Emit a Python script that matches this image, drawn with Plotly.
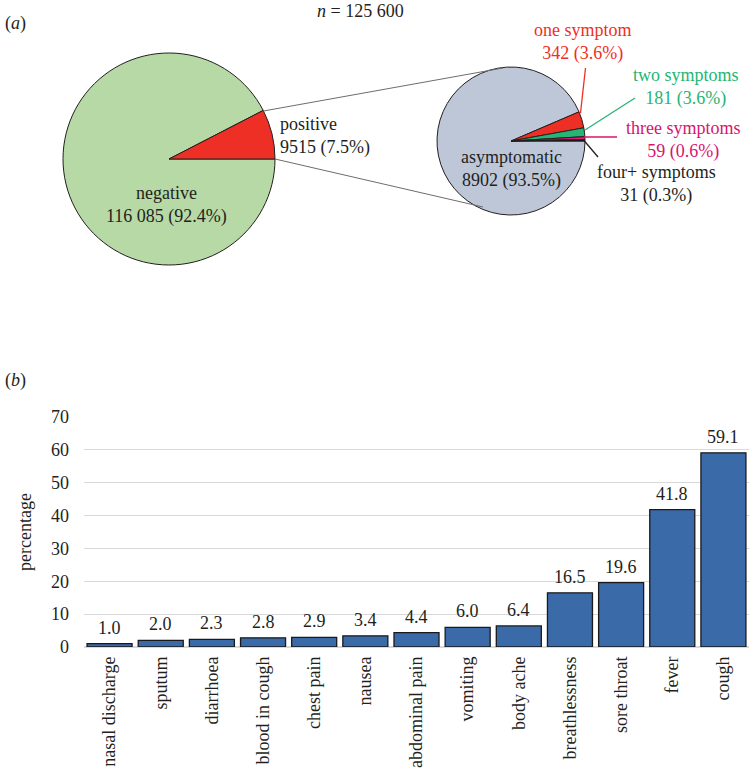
import plotly.graph_objects as go

# ---------------- data ----------------
test_labels = ["negative", "positive"]
test_counts = [116085, 9515]
test_pct = ["92.4%", "7.5%"]
total_n = 125600

group_labels = ["asymptomatic", "one symptom", "two symptoms", "three symptoms", "four+ symptoms"]
group_counts = [8902, 342, 181, 59, 31]
group_pct = ["93.5%", "3.6%", "3.6%", "0.6%", "0.3%"]

symptoms = ["nasal discharge", "sputum", "diarrhoea", "blood in cough", "chest pain", "nausea",
            "abdominal pain", "vomiting", "body ache", "breathlessness", "sore throat", "fever", "cough"]
symptom_pct = [1.0, 2.0, 2.3, 2.8, 2.9, 3.4, 4.4, 6.0, 6.4, 16.5, 19.6, 41.8, 59.1]

# ---------------- styling ----------------
W, H = 753, 774
FONT = "Liberation Serif, Times New Roman, serif"
TXT = "#231f20"
FS = 18

def px(x, y):
    return x / W, 1 - y / H

def fmt(n):
    return f"{n:,}".replace(",", " ") if n >= 10000 else str(n)

fig = go.Figure()

# left pie
lx0, lx1, ly0, ly1 = 63, 275, 53, 265
fig.add_trace(go.Pie(
    values=test_counts, labels=test_labels, sort=False, direction="clockwise",
    rotation=90, textinfo="none", hoverinfo="skip", showlegend=False,
    marker=dict(colors=["#b7d9a5", "#ee2f25"], line=dict(color="#231f20", width=1)),
    domain=dict(x=[lx0 / W, lx1 / W], y=[1 - ly1 / H, 1 - ly0 / H]),
))

# right pie
rx0, rx1, ry0, ry1 = 437, 585, 67, 215
fig.add_trace(go.Pie(
    values=group_counts, labels=group_labels, sort=False, direction="clockwise",
    rotation=90, textinfo="none", hoverinfo="skip", showlegend=False,
    marker=dict(colors=["#bdc7d8", "#ee2f25", "#25b574", "#e0197a", "#111111"],
                line=dict(color="#231f20", width=1)),
    domain=dict(x=[rx0 / W, rx1 / W], y=[1 - ry1 / H, 1 - ry0 / H]),
))

# bar chart
fig.add_trace(go.Bar(
    x=symptoms, y=symptom_pct, marker=dict(color="#3b6aa8", line=dict(color="#1a1a1a", width=1.3)),
    hoverinfo="skip", showlegend=False, xaxis="x", yaxis="y",
))

fig.update_layout(
    width=W, height=H, margin=dict(l=0, r=0, t=0, b=0, autoexpand=False),
    paper_bgcolor="white", plot_bgcolor="white",
    font=dict(family=FONT, size=FS, color=TXT),
    bargap=0.12,
    xaxis=dict(domain=[84 / W, 749 / W], anchor="y", tickangle=-90, showgrid=False,
               showline=False, ticks="", automargin=False,
               tickfont=dict(family=FONT, size=18, color=TXT), ticklabelstandoff=5),
    yaxis=dict(domain=[1 - 647 / H, 1 - 417 / H], anchor="x", range=[0, 70], dtick=10,
               showgrid=True, gridcolor="#d9d9d9", gridwidth=1, zeroline=True,
               zerolinecolor="#d9d9d9", showline=False, ticks="", automargin=False,
               tickfont=dict(family=FONT, size=FS, color=TXT), ticklabelstandoff=14,
               title=dict(text="percentage", font=dict(family=FONT, size=FS, color=TXT), standoff=14)),
)

ann = []
def text(x, y, s, color=TXT, xanchor="center"):
    xp, yp = px(x, y)
    ann.append(dict(x=xp, y=yp, xref="paper", yref="paper", text=s, showarrow=False,
                    xanchor=xanchor, yanchor="middle", align="center" if xanchor == "center" else "left",
                    font=dict(family=FONT, size=FS, color=color)))

text(3, 23, "(<i>a</i>)", xanchor="left")
text(360, 11, f"<i>n</i> = {fmt(total_n)}")
text(3, 380, "(<i>b</i>)", xanchor="left")

text(166, 205, f"{test_labels[0]}<br>{fmt(test_counts[0])} ({test_pct[0]})")
text(278, 136, f"{test_labels[1]}<br>{fmt(test_counts[1])} ({test_pct[1]})", xanchor="left")

grp_pos = [(512, 169), (583, 42), (686, 87), (683, 140), (656, 184)]
grp_col = [TXT, "#ee2f25", "#25b574", "#d6156f", TXT]
for lab, c, p, pos, col in zip(group_labels, group_counts, group_pct, grp_pos, grp_col):
    text(pos[0], pos[1], f"{lab}<br>{fmt(c)} ({p})", color=col)

# value labels for bars
for cat, v in zip(symptoms, symptom_pct):
    ann.append(dict(x=cat, y=v, xref="x", yref="y", text=f"{v:.1f}", showarrow=False,
                    yanchor="bottom", yshift=4, font=dict(family=FONT, size=FS, color=TXT)))

fig.update_layout(annotations=ann)

# connector and leader lines
shapes = []
def line(x0, y0, x1, y1, color, width=1):
    a, b = px(x0, y0)
    c, d = px(x1, y1)
    shapes.append(dict(type="line", xref="paper", yref="paper", x0=a, y0=b, x1=c, y1=d,
                       line=dict(color=color, width=width)))

line(263.5, 111, 503, 68, "#6d6d6d")
line(275, 159, 483, 207, "#6d6d6d")
line(585.5, 68, 580.5, 113, "#ee2f25", 1.3)
line(635, 98, 585, 130, "#25b574", 1.3)
line(584, 137, 617, 137, "#d6156f", 1.3)
line(584, 140.5, 598, 157, "#231f20", 1.3)
fig.update_layout(shapes=shapes)

fig.write_html("out.html", config={"displayModeBar": False},
               post_script="document.body.style.margin='0';document.body.style.overflow='hidden';")
